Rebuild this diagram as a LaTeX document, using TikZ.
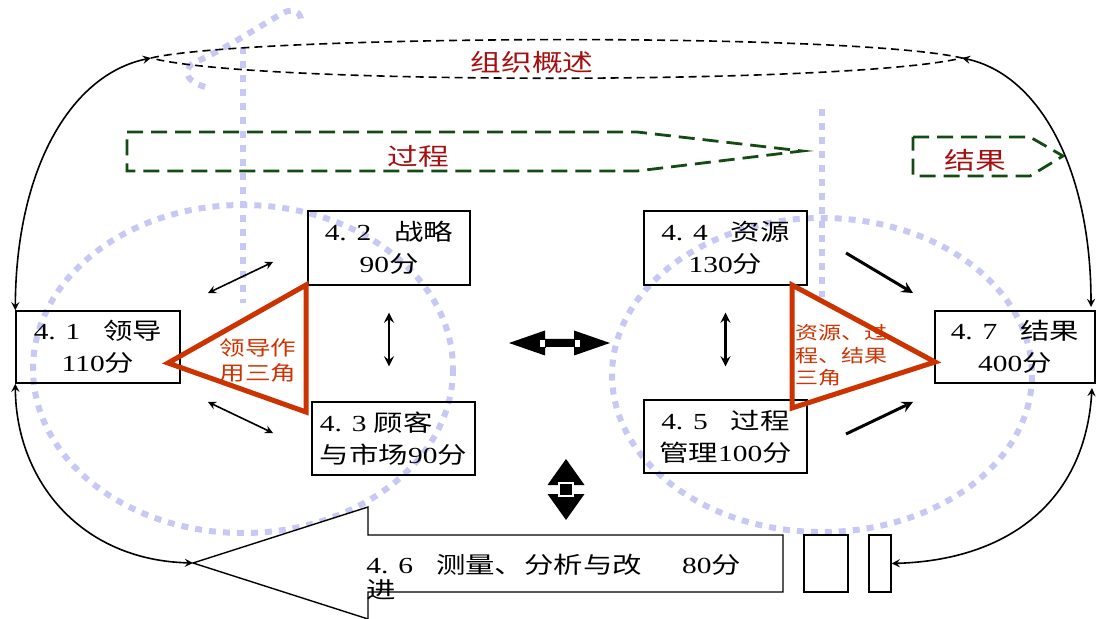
\documentclass[tikz,border=0pt]{standalone}
\usepackage{fontspec}
\setmainfont{Liberation Serif}[FakeStretch=1.28]
\newfontfamily\cjk{Noto Sans CJK SC}[FakeStretch=1.28]
\newcommand{\zh}[1]{{\cjk #1}}

\definecolor{titlered}{RGB}{165,15,15}
\definecolor{pathgreen}{RGB}{20,75,20}
\definecolor{triorange}{RGB}{204,51,0}
\definecolor{lav}{RGB}{200,200,245}

\tikzset{
  box/.style={draw, line width=0.7pt, inner sep=1pt, align=center, font=\fontsize{11.5}{16}\selectfont},
  lavdot/.style={draw=lav, line width=3pt, dash pattern=on 3.5pt off 3.5pt},
  greenarrow/.style={draw=pathgreen, line width=1.4pt, dash pattern=on 8pt off 4pt},
  redtri/.style={draw=triorange, line width=2.5pt, line join=miter},
  redlabel/.style={text=titlered, font=\cjk\fontsize{12}{14}\selectfont},
  trilabel/.style={text=triorange, align=left, inner sep=0pt},
  dbl/.style={stealth-stealth, line width=0.8pt},
  curve/.style={stealth-stealth, line width=0.8pt},
}

\begin{document}
\begin{tikzpicture}[x=0.5pt,y=-0.5pt]
\useasboundingbox (0,0) rectangle (1096,619);

%%%%%%%%%%%%%%%%%%%%%%%%%%%%%%%%%%%%%%%%%%%%%%%%%%%%%%%%%%%%%%%%%
% dotted circles and guide lines
\draw [lavdot] (243,369) ellipse [x radius=210, y radius=164];
\draw [lavdot] (822,375) ellipse [x radius=210, y radius=157];
\draw [lavdot] (243,47) -- (243,303);
\draw [lavdot] (822,109) -- (822,297);
\draw [lavdot] (205,87) .. controls (182,80) and (182,66) .. (200,60)
   .. controls (230,46) and (260,26) .. (283,13) .. controls (296,6) and (304,16) .. (300,25);

%%%%%%%%%%%%%%%%%%%%%%%%%%%%%%
% overview lens, process and result arrows
\coordinate (lensL) at (151,58);
\coordinate (lensR) at (962,58);
\draw [line width=0.8pt, dash pattern=on 4pt off 2.5pt] (lensL) .. controls (250,35) and (850,32) .. (lensR)
   .. controls (850,85) and (250,85) .. (lensL);
\node [redlabel] (overview) at (532,62) {组织概述};

\draw [greenarrow] (127,132) -- (637,132) -- (802,151) -- (637,171) -- (127,171) -- cycle;
\node [redlabel] (process) at (418,156) {过程};

\draw [greenarrow] (913,137) -- (1030,137) -- (1063,156) -- (1030,176) -- (913,176) -- cycle;
\node [redlabel] (result) at (975,160) {结果};

%%%%%%%%%%%%%%%%%%%%%%%%%%%%%%
% measurement arrow
\coordinate (meastip) at (193,563);
\draw [fill=white, line width=0.7pt] (meastip) -- (368,507) -- (368,535) -- (783,535) -- (783,592)
   -- (368,592) -- (368,619) -- cycle;
\node [anchor=west, align=left, inner sep=0pt, font=\fontsize{11.5}{12.5}\selectfont] (meas) at (366,577)
   {4. 6\quad\zh{测量、分析与改}\hspace{20pt}80\zh{分}\\\zh{进}};

\node [draw, fill=white, line width=0.7pt, minimum width=22pt, minimum height=28.5pt] (sq1) at (826,563.5) {};
\node [draw, fill=white, line width=0.7pt, minimum width=11pt, minimum height=28.5pt] (sq2) at (880,563.5) {};

%%%%%%%%%%%%%%%%%%%%%%%%%%%%%%
% boxes
\node [box, minimum width=82pt, minimum height=36pt] (b41) at (98,347) {4. 1\quad\zh{领导}\\110\zh{分}};
\node [box, minimum width=81pt, minimum height=37pt] (b42) at (389,248) {4. 2\quad\zh{战略}\\90\zh{分}};
\node [box, minimum width=81.5pt, minimum height=36.5pt, align=left] (b43) at (393.5,438.5) {4. 3 \zh{顾客}\\\zh{与市场}90\zh{分}};
\node [box, minimum width=81.5pt, minimum height=37pt] (b44) at (725.5,248) {4. 4\quad\zh{资源}\\130\zh{分}};
\node [box, minimum width=81.5pt, minimum height=36.5pt] (b45) at (725.5,436.5) {4. 5\quad\zh{过程}\\\zh{管理}100\zh{分}};
\node [box, minimum width=80pt, minimum height=36pt] (b47) at (1015,347) {4. 7\quad\zh{结果}\\400\zh{分}};

%%%%%%%%%%%%%%%%%%%%%%%%%%%%%%
% triangles
\draw [redtri] (168,363) -- (306,285) -- (306,412) -- cycle;
\node [trilabel, font=\cjk\fontsize{10}{12.5}\selectfont] (tri1) at (258,360) {领导作\\用三角};
\draw [redtri] (792,285) -- (935,362) -- (792,408) -- cycle;
\node [trilabel, anchor=west, font=\cjk\fontsize{9}{11.25}\selectfont] (tri2) at (795,355.5) {资源、过\\程、结果\\三角};

%%%%%%%%%%%%%%%%%%%%%%%%%%%%%%
% small arrows
\coordinate (a1s) at (208,293);
\coordinate (a1e) at (273,262);
\draw [dbl] (a1s) -- (a1e);
\coordinate (a2s) at (208,402);
\coordinate (a2e) at (273,433);
\draw [dbl] (a2s) -- (a2e);
\draw [stealth-stealth, line width=1.2pt, shorten <=13.5pt, shorten >=17.5pt] (b42.south) -- (b42.south |- b43.north);
\draw [stealth-stealth, line width=1.2pt, shorten <=13.5pt, shorten >=16.5pt] (b44.south) -- (b45.north);
\coordinate (a5s) at (846,253);
\coordinate (a5e) at (913,293);
\draw [-stealth, line width=1.5pt] (a5s) -- (a5e);
\coordinate (a6s) at (846,434);
\coordinate (a6e) at (913,402);
\draw [-stealth, line width=1.5pt] (a6s) -- (a6e);

% block arrows
\coordinate (harr) at (509,343);
\fill (harr) -- ++(36,-12.5) -- ++(0,8.5) -- ++(29,0) -- ++(0,-8.5) -- ++(36,12.5) -- ++(-36,12.5)
   -- ++(0,-8.5) -- ++(-29,0) -- ++(0,8.5) -- cycle;
\draw [fill=white, line width=0.4pt] (539,339) rectangle (545,347);
\draw [fill=white, line width=0.4pt] (574,339) rectangle (580,347);
\coordinate (varr) at (566,459);
\fill (varr) -- ++(18.5,26) -- ++(-11,0) -- ++(0,9) -- ++(11,0) -- ++(-18.5,26) -- ++(-18.5,-26)
   -- ++(11,0) -- ++(0,-9) -- ++(-11,0) -- cycle;
\draw [white, line width=1pt] (559,483) rectangle (573,496);

%%%%%%%%%%%%%%%%%%%%%%%%%%%%%%
% curved connectors
\coordinate (rtop) at (1091,307);
\coordinate (rbot) at (1092,388);
\draw [curve] (lensL) .. controls (70,75) and (16,170) .. (b41.north west);
\draw [curve] (lensR) .. controls (1040,75) and (1091,170) .. (rtop);
\draw [curve] (b41.south west) .. controls (16,480) and (80,560) .. (meastip);
\draw [curve] (rbot) .. controls (1085,500) and (1010,560) .. (sq2.east);

%%%%%%%%%%%%%%%%%%%%%%%%%%%%%%%%%%%%%%%%%%%%%%%%%%%%%%%%%%%%%%%%%
\end{tikzpicture}
\end{document}
